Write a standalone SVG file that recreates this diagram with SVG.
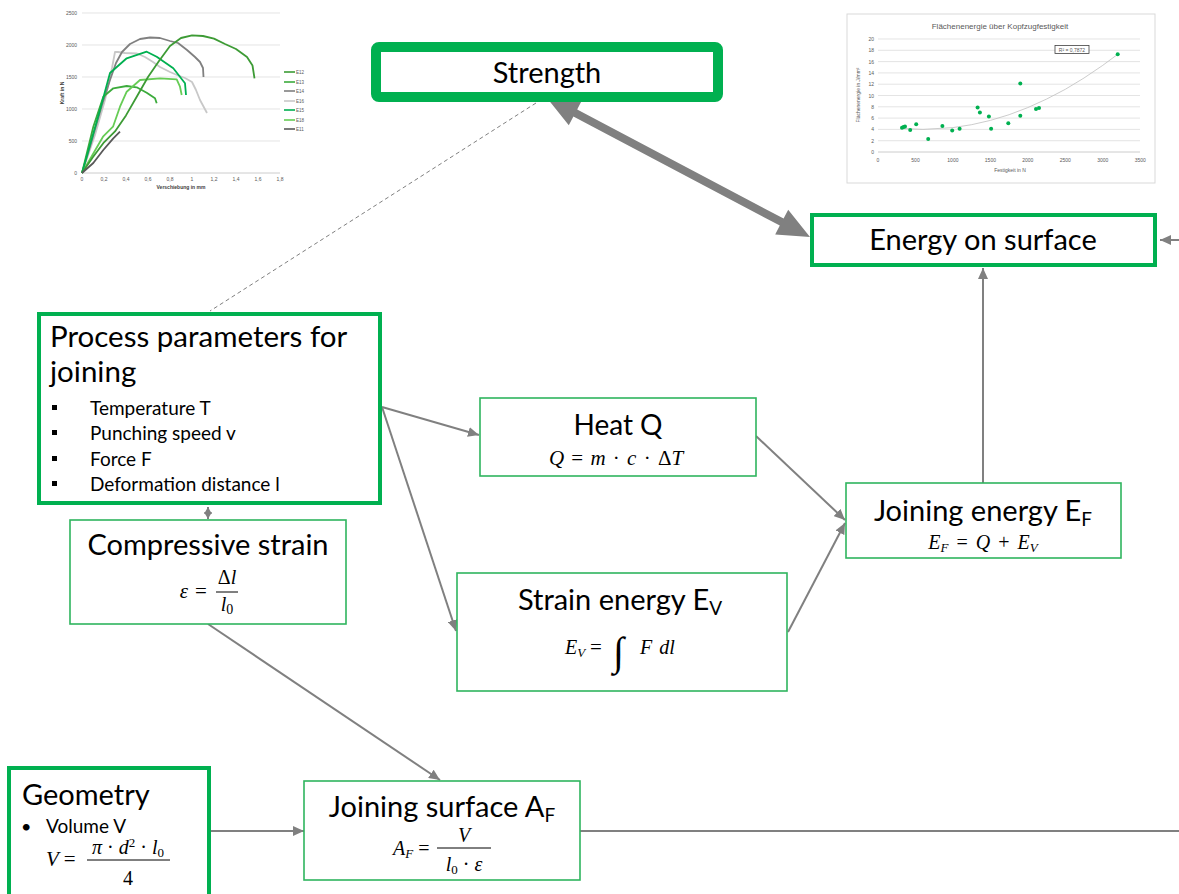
<svg xmlns="http://www.w3.org/2000/svg" width="1179" height="894" viewBox="0 0 1179 894">
<defs>
<style>
.t{font-family:Lato,"Open Sans","Liberation Sans",sans-serif;fill:#000}
.m{font-family:"Liberation Serif","DejaVu Serif",serif;font-style:italic;fill:#000}
.mn{font-family:"Liberation Serif","DejaVu Serif",serif;font-style:normal;fill:#000}
.thick{fill:#fff;stroke:#00b050;stroke-width:4}
.thin{fill:#fff;stroke:#2fb55e;stroke-width:1.6}
.con{fill:none;stroke:#808080;stroke-width:2}
.ct{font-family:"Liberation Sans",sans-serif;fill:#595959}
.grid{stroke:#d9d9d9;stroke-width:0.7}
</style>
<marker id="ah" markerUnits="userSpaceOnUse" markerWidth="12" markerHeight="10" refX="11" refY="5" orient="auto">
<path d="M0,0 L11,5 L0,10 Z" fill="#808080"/>
</marker>
<marker id="ahs" markerUnits="userSpaceOnUse" markerWidth="8" markerHeight="8" refX="7" refY="4" orient="auto-start-reverse">
<path d="M0,0 L7,4 L0,8 Z" fill="#808080"/>
</marker>
</defs>
<rect width="1179" height="894" fill="#fff"/>

<!-- left chart -->
<g id="chart-force">
<g class="grid">
<line x1="82" y1="13" x2="280" y2="13"/><line x1="82" y1="45" x2="280" y2="45"/><line x1="82" y1="77" x2="280" y2="77"/><line x1="82" y1="109" x2="280" y2="109"/><line x1="82" y1="141" x2="280" y2="141"/>
</g>
<line x1="82" y1="173" x2="280" y2="173" stroke="#bfbfbf" stroke-width="0.8"/>
<g class="ct" font-size="5" text-anchor="end">
<text x="77" y="15">2500</text><text x="77" y="47">2000</text><text x="77" y="79">1500</text><text x="77" y="111">1000</text><text x="77" y="143">500</text><text x="77" y="175">0</text>
</g>
<g class="ct" font-size="5" text-anchor="middle">
<text x="82" y="181">0</text><text x="104" y="181">0,2</text><text x="126" y="181">0,4</text><text x="148" y="181">0,6</text><text x="170" y="181">0,8</text><text x="192" y="181">1</text><text x="214" y="181">1,2</text><text x="236" y="181">1,4</text><text x="258" y="181">1,6</text><text x="280" y="181">1,8</text>
<text x="181" y="189" font-weight="bold" fill="#404040">Verschiebung in mm</text>
<text x="0" y="0" transform="translate(64,93) rotate(-90)" font-weight="bold" fill="#404040">Kraft in N</text>
</g>
<g fill="none" stroke-width="1.8" stroke-linejoin="round">
<polyline stroke="#c8c8c8" points="82,173 95,135 105,100 112,68 115,52 118,52 125,53 137,53.5 145,57 153,62 160,67 170,72 177,75 185,78 192,82 196,90 200,100 207,113"/>
<polyline stroke="#808080" points="82,173 92,140 102,105 110,80 116,63 122,52 130,44 140,39 150,37.5 160,38 170,41 178,43 187,50 195,57 200,62 203,68 203.5,77"/>
<polyline stroke="#3cab3c" points="82,173 93.3,126.7 103.3,96.7 113.3,88.3 126.7,86 136.7,87.3 146.7,92.7 155,98.3 156.7,103.3"/>
<polyline stroke="#66cc55" points="82,173 103,136.7 113,126.7 120,106.7 126.7,91.7 140,80 160,78.3 176.7,79.3 180,86.7 181.7,95"/>
<polyline stroke="#00b050" points="82,173 100,110 110,73 126.7,58.3 146.7,51.7 156.7,56.7 173.3,68.3 185,83.3 186,95"/>
<polyline stroke="#3d9b35" points="82,173 93,157 104,142.3 115,131.4 126,115.4 137,96.2 148,77 159,61 170,46 181,38 192,35.4 203,36 214,38.6 225,44 236,49 247,57 252.5,65.5 254.5,78.3"/>
<polyline stroke="#595959" points="82,173 93.3,163 103.3,150 113.3,138.3 120,131.7"/>
</g>
<g stroke-width="1.6">
<line x1="284" y1="72" x2="295" y2="72" stroke="#3d9b35"/>
<line x1="284" y1="82" x2="295" y2="82" stroke="#3cab3c"/>
<line x1="284" y1="91" x2="295" y2="91" stroke="#808080"/>
<line x1="284" y1="101" x2="295" y2="101" stroke="#c8c8c8"/>
<line x1="284" y1="110" x2="295" y2="110" stroke="#00b050"/>
<line x1="284" y1="120" x2="295" y2="120" stroke="#66cc55"/>
<line x1="284" y1="129" x2="295" y2="129" stroke="#595959"/>
</g>
<g class="ct" font-size="4.5">
<text x="296" y="73.5">E12</text><text x="296" y="83.5">E13</text><text x="296" y="92.5">E14</text><text x="296" y="102.5">E16</text><text x="296" y="111.5">E15</text><text x="296" y="121.5">E18</text><text x="296" y="130.5">E11</text>
</g>
</g>

<!-- right chart -->
<g id="chart-energy">
<rect x="847" y="14" width="308" height="169" fill="#fff" stroke="#d9d9d9" stroke-width="1"/>
<text class="ct" x="1000" y="29" font-size="8" text-anchor="middle">Flächenenergie über Kopfzugfestigkeit</text>
<g class="grid">
<line x1="878" y1="39" x2="1140" y2="39"/><line x1="878" y1="50.3" x2="1140" y2="50.3"/><line x1="878" y1="61.6" x2="1140" y2="61.6"/><line x1="878" y1="72.9" x2="1140" y2="72.9"/><line x1="878" y1="84.2" x2="1140" y2="84.2"/><line x1="878" y1="95.5" x2="1140" y2="95.5"/><line x1="878" y1="106.8" x2="1140" y2="106.8"/><line x1="878" y1="118.1" x2="1140" y2="118.1"/><line x1="878" y1="129.4" x2="1140" y2="129.4"/><line x1="878" y1="140.7" x2="1140" y2="140.7"/>
</g>
<line x1="878" y1="152" x2="1140" y2="152" stroke="#bfbfbf" stroke-width="0.8"/>
<g class="ct" font-size="5" text-anchor="end">
<text x="874" y="41">20</text><text x="874" y="52.3">18</text><text x="874" y="63.6">16</text><text x="874" y="74.9">14</text><text x="874" y="86.2">12</text><text x="874" y="97.5">10</text><text x="874" y="108.8">8</text><text x="874" y="120.1">6</text><text x="874" y="131.4">4</text><text x="874" y="142.7">2</text><text x="874" y="154">0</text>
</g>
<g class="ct" font-size="5" text-anchor="middle">
<text x="878" y="162">0</text><text x="915.5" y="162">500</text><text x="952.9" y="162">1000</text><text x="990.4" y="162">1500</text><text x="1027.8" y="162">2000</text><text x="1065.3" y="162">2500</text><text x="1102.7" y="162">3000</text><text x="1140.2" y="162">3500</text>
<text x="1010" y="172">Festigkeit in N</text>
<text x="0" y="0" transform="translate(860,95) rotate(-90)">Flächenenergie in J/mm²</text>
</g>
<polyline fill="none" stroke="#bfbfbf" stroke-width="0.8" points="900.5,128.4 922.9,129.4 952.9,127.6 971.6,124.7 990.4,120.4 1009.1,114.7 1027.8,107.6 1046.5,99.1 1065.3,89.3 1084,78 1102.7,65.4 1117.7,54.3"/>
<g fill="#00b050">
<circle cx="902" cy="127.7" r="2"/><circle cx="903.5" cy="127.1" r="2"/><circle cx="905" cy="126.6" r="2"/><circle cx="910.2" cy="130" r="2"/><circle cx="916.2" cy="124.3" r="2"/><circle cx="928.2" cy="139" r="2"/><circle cx="942.4" cy="126" r="2"/><circle cx="952.2" cy="130.5" r="2"/><circle cx="959.6" cy="128.8" r="2"/><circle cx="977.6" cy="107.4" r="2"/><circle cx="979.9" cy="112.5" r="2"/><circle cx="988.9" cy="116.4" r="2"/><circle cx="991.1" cy="128.8" r="2"/><circle cx="1008.3" cy="123.2" r="2"/><circle cx="1020.3" cy="115.8" r="2"/><circle cx="1020.3" cy="83.6" r="2"/><circle cx="1036" cy="109.1" r="2"/><circle cx="1039" cy="107.9" r="2"/><circle cx="1117.7" cy="54.3" r="2"/>
</g>
<rect x="1055" y="45.5" width="34" height="8" fill="#fff" stroke="#404040" stroke-width="0.8"/>
<text class="ct" x="1072" y="51.5" font-size="5" text-anchor="middle">R² = 0,7872</text>
</g>

<!-- connectors -->
<g id="connectors">
<line x1="536" y1="103" x2="210" y2="311" stroke="#808080" stroke-width="1" stroke-dasharray="4,3"/>
<polygon fill="#808080" points="547,98 568.8,125.3 573.4,116.4 779.8,225.6 775.2,234.5 810,237 788.2,209.7 783.6,218.6 577.2,109.4 581.8,100.5"/>
<line class="con" x1="1179" y1="240" x2="1160" y2="240" marker-end="url(#ah)"/>
<line class="con" x1="208" y1="512" x2="208" y2="507" marker-end="url(#ahs)"/>
<line class="con" x1="208" y1="512" x2="208" y2="519" marker-end="url(#ahs)"/>
<line class="con" x1="382" y1="407" x2="479" y2="435" marker-end="url(#ah)"/>
<line class="con" x1="382" y1="407" x2="456" y2="631" marker-end="url(#ah)"/>
<line class="con" x1="756" y1="436" x2="845" y2="520" marker-end="url(#ah)"/>
<line class="con" x1="788" y1="632" x2="845" y2="523" marker-end="url(#ah)"/>
<line class="con" x1="983" y1="483" x2="983" y2="268" marker-end="url(#ah)"/>
<line class="con" x1="208" y1="624" x2="440" y2="780" marker-end="url(#ah)"/>
<line class="con" x1="210" y1="831" x2="304" y2="831" marker-end="url(#ah)"/>
<line class="con" x1="580" y1="831" x2="1179" y2="831"/>
</g>

<!-- nodes -->
<g id="strength">
<rect x="376" y="47" width="342" height="50" rx="3" fill="#fff" stroke="#00b050" stroke-width="10"/>
<text class="t" x="547" y="83" font-size="29" text-anchor="middle">Strength</text>
</g>

<g id="energy-surface">
<rect class="thick" x="812" y="215" width="343" height="50"/>
<text class="t" x="983" y="250" font-size="29" text-anchor="middle">Energy on surface</text>
</g>

<g id="process-parameters">
<rect class="thick" x="39" y="314" width="341" height="189"/>
<text class="t" x="50" y="347" font-size="29.5">Process parameters for</text>
<text class="t" x="50" y="382" font-size="29.5">joining</text>
<g fill="#000">
<rect x="52" y="405" width="5" height="5"/><rect x="52" y="430" width="5" height="5"/><rect x="52" y="456" width="5" height="5"/><rect x="52" y="481" width="5" height="5"/>
</g>
<text class="t" x="90" y="415" font-size="19">Temperature T</text>
<text class="t" x="90" y="440" font-size="19">Punching speed v</text>
<text class="t" x="90" y="466" font-size="19">Force F</text>
<text class="t" x="90" y="491" font-size="19">Deformation distance l</text>
</g>

<g id="compressive-strain">
<rect class="thin" x="70" y="520" width="276" height="104"/>
<text class="t" x="208" y="555" font-size="29" text-anchor="middle">Compressive strain</text>
<text class="m" x="184" y="598" font-size="21" text-anchor="middle">ε</text>
<text class="mn" x="201" y="598" font-size="21" text-anchor="middle">=</text>
<line x1="216" y1="592" x2="238" y2="592" stroke="#000" stroke-width="1"/>
<text class="mn" x="227" y="584" font-size="20" text-anchor="middle">Δ<tspan class="m">l</tspan></text>
<text class="m" x="227" y="611" font-size="20" text-anchor="middle">l<tspan class="mn" font-size="14" dy="3">0</tspan></text>
</g>

<g id="heat">
<rect class="thin" x="480" y="398" width="276" height="78"/>
<text class="t" x="618" y="435" font-size="28" text-anchor="middle">Heat Q</text>
<text class="m" x="616" y="465" font-size="21" text-anchor="middle" word-spacing="2">Q <tspan class="mn">=</tspan> m <tspan class="mn">·</tspan> c <tspan class="mn">·</tspan> <tspan class="mn">Δ</tspan>T</text>
</g>

<g id="joining-energy">
<rect class="thin" x="846" y="483" width="275" height="75"/>
<text class="t" x="983" y="521" font-size="29" text-anchor="middle">Joining energy E<tspan font-size="19" dy="5">F</tspan></text>
<text class="m" x="983" y="549" font-size="20" text-anchor="middle" word-spacing="3">E<tspan font-size="13" dy="3">F</tspan><tspan dy="-3" class="mn"> = </tspan>Q<tspan class="mn"> + </tspan>E<tspan font-size="13" dy="3">V</tspan></text>
</g>

<g id="strain-energy">
<rect class="thin" x="457" y="573" width="330" height="118"/>
<text class="t" x="620" y="610" font-size="29" text-anchor="middle">Strain energy E<tspan font-size="19" dy="5">V</tspan></text>
<text class="m" x="565" y="654" font-size="20">E<tspan font-size="13" dy="3">V</tspan></text>
<text class="mn" x="590" y="654" font-size="21">=</text>
<text class="m" x="613" y="665" font-size="40">∫</text>
<text class="m" x="640" y="654" font-size="20" word-spacing="2">F dl</text>
</g>

<g id="geometry">
<rect class="thick" x="9" y="768" width="200" height="140" stroke-width="3"/>
<text class="t" x="22" y="805" font-size="29">Geometry</text>
<text class="t" x="21" y="833" font-size="18">•</text>
<text class="t" x="46" y="833" font-size="19">Volume V</text>
<text class="m" x="46" y="866" font-size="21">V <tspan class="mn">=</tspan></text>
<line x1="87" y1="860" x2="170" y2="860" stroke="#000" stroke-width="1"/>
<text class="m" x="128" y="854" font-size="20" text-anchor="middle">π <tspan class="mn">·</tspan> d<tspan class="mn" font-size="13" dy="-7">2</tspan><tspan dy="7"> </tspan><tspan class="mn">·</tspan> l<tspan class="mn" font-size="13" dy="3">0</tspan></text>
<text class="mn" x="128" y="885" font-size="20" text-anchor="middle">4</text>
</g>

<g id="joining-surface">
<rect class="thin" x="304" y="781" width="276" height="99"/>
<text class="t" x="442" y="817" font-size="29" text-anchor="middle">Joining surface A<tspan font-size="19" dy="5">F</tspan></text>
<text class="m" x="393" y="855" font-size="20">A<tspan font-size="13" dy="3">F</tspan><tspan class="mn" dy="-3"> =</tspan></text>
<line x1="437" y1="848" x2="491" y2="848" stroke="#000" stroke-width="1"/>
<text class="m" x="464" y="842" font-size="20" text-anchor="middle">V</text>
<text class="m" x="464" y="871" font-size="20" text-anchor="middle">l<tspan class="mn" font-size="13" dy="3">0</tspan><tspan class="mn" dy="-3"> · </tspan>ε</text>
</g>
</svg>
